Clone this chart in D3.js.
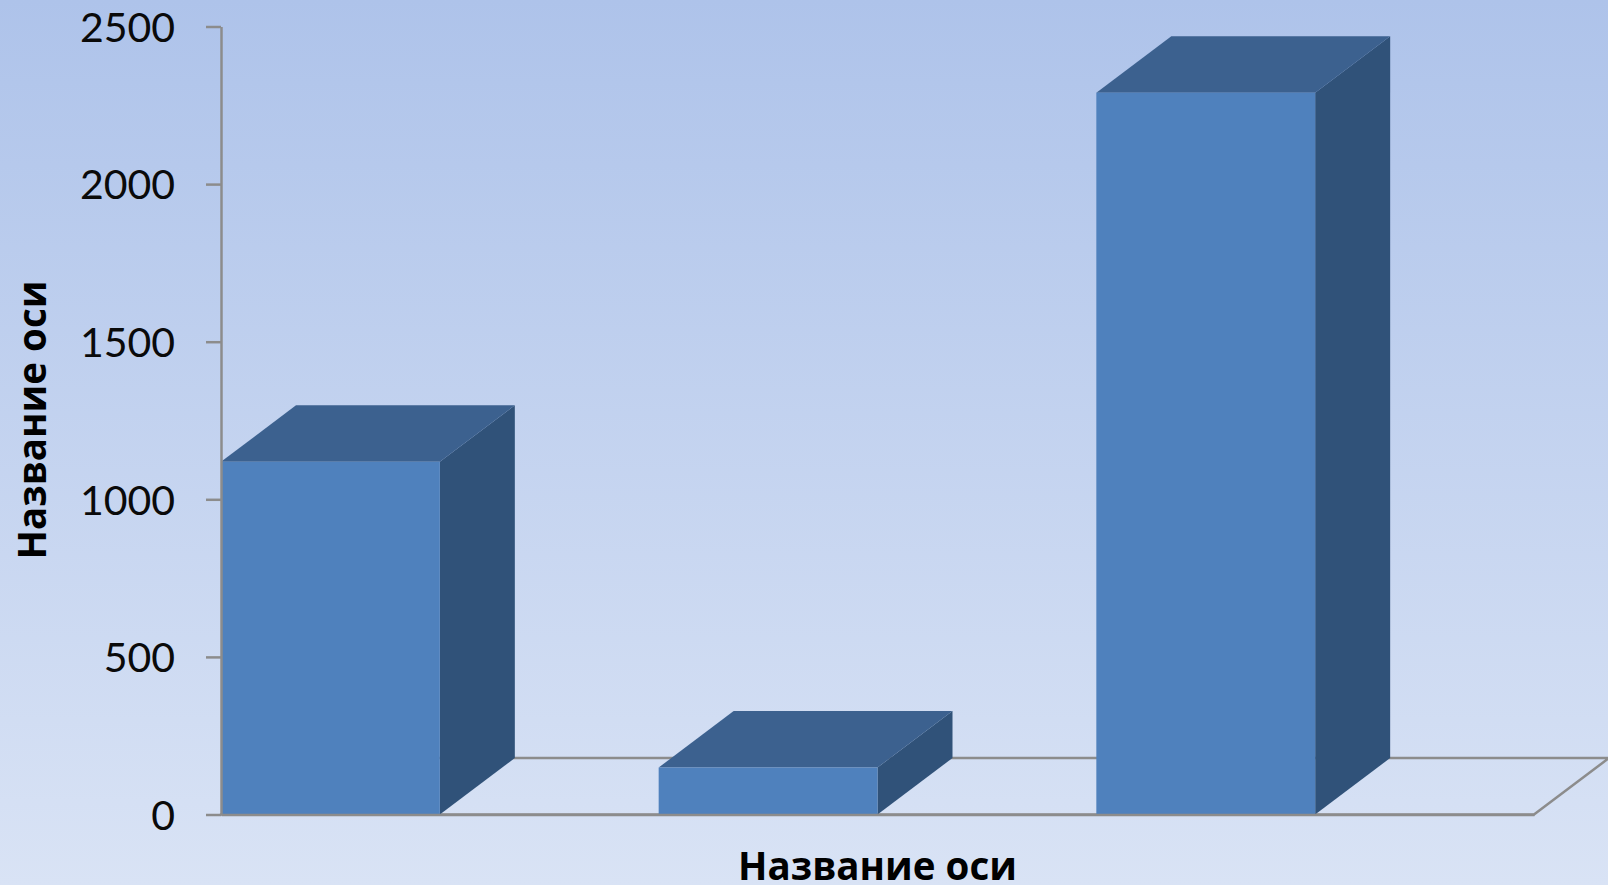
<!DOCTYPE html>
<html>
<head>
<meta charset="utf-8">
<script src="https://cdn.jsdelivr.net/npm/d3@7"></script>
<style>
    html, body { margin: 0; padding: 0; overflow: hidden; }
    svg { display: block; }
    .tick text { font-family: Lato, "Open Sans", sans-serif; font-size: 41px; fill: #0a0a0a; }
    .axis-title { font-family: "Open Sans", sans-serif; font-size: 38.5px; font-weight: 700; fill: #000; }
</style>
</head>
<body>
<div id="chart"></div>
<script>
const categories = ["1", "2", "3"];
const values = [1119, 149, 2290];
const yTicks = [0, 500, 1000, 1500, 2000, 2500];
const yTitle = "Название оси";
const xTitle = "Название оси";

const width = 1608, height = 885;
const margin = { top: 26.5, right: 74, bottom: 70.5, left: 221 };
const depth = { x: 75, y: 56.5 };

const svg = d3.select("#chart")
    .append("svg")
    .attr("width", width)
    .attr("height", height);

const grad = svg.append("defs").append("linearGradient")
    .attr("id", "bg")
    .attr("x1", 0).attr("y1", 0)
    .attr("x2", 0).attr("y2", 1);
grad.append("stop").attr("offset", "0%").attr("stop-color", "#aec3ea");
grad.append("stop").attr("offset", "100%").attr("stop-color", "#d9e3f5");

svg.append("rect")
    .attr("width", width)
    .attr("height", height)
    .attr("fill", "url(#bg)");

const x = d3.scaleBand()
    .domain(categories)
    .range([margin.left, width - margin.right]);

const y = d3.scaleLinear()
    .domain([0, 2500])
    .range([height - margin.bottom, margin.top]);

const barWidth = x.bandwidth() / 2;
const floorY = y(0);
const line = d3.line();

// floor of the 3d box
svg.append("path")
    .attr("d", line([
        [x.range()[0], floorY],
        [x.range()[1], floorY],
        [x.range()[1] + depth.x, floorY - depth.y],
        [x.range()[0] + depth.x, floorY - depth.y]
    ]) + "Z")
    .attr("fill", "none")
    .attr("stroke", "#8c8c8c")
    .attr("stroke-width", 2.5);

const bars = svg.selectAll(".bar")
    .data(values)
    .enter()
    .append("g")
    .attr("class", "bar");

// side
bars.append("path")
    .attr("fill", "#305279")
    .attr("d", (d, i) => {
        const x1 = x(categories[i]) + barWidth;
        return line([
            [x1, floorY],
            [x1, y(d)],
            [x1 + depth.x, y(d) - depth.y],
            [x1 + depth.x, floorY - depth.y]
        ]) + "Z";
    });

// top
bars.append("path")
    .attr("fill", "#3c618f")
    .attr("d", (d, i) => {
        const x0 = x(categories[i]);
        return line([
            [x0, y(d)],
            [x0 + barWidth, y(d)],
            [x0 + barWidth + depth.x, y(d) - depth.y],
            [x0 + depth.x, y(d) - depth.y]
        ]) + "Z";
    });

// front
bars.append("rect")
    .attr("fill", "#4f81bd")
    .attr("x", (d, i) => x(categories[i]))
    .attr("y", d => y(d))
    .attr("width", barWidth)
    .attr("height", d => floorY - y(d));

const yAxis = svg.append("g")
    .attr("transform", "translate(" + margin.left + ",0)")
    .call(d3.axisLeft(y).tickValues(yTicks).tickSize(15).tickPadding(31).tickSizeOuter(0).tickFormat(d3.format("d")));
yAxis.selectAll("path, line")
    .attr("stroke", "#8c8c8c")
    .attr("stroke-width", 2.5);
yAxis.selectAll("text")
    .attr("dy", "0.36em");

svg.append("g")
    .attr("transform", "translate(0," + floorY + ")")
    .call(d3.axisBottom(x).tickSize(0).tickFormat(""))
    .select("path")
    .attr("stroke", "#8c8c8c")
    .attr("stroke-width", 2.5);

svg.append("text")
    .attr("class", "axis-title")
    .attr("x", (x.range()[0] + x.range()[1]) / 2)
    .attr("y", 880)
    .attr("text-anchor", "middle")
    .text(xTitle);

svg.append("text")
    .attr("class", "axis-title")
    .attr("transform", "translate(46,420) rotate(-90)")
    .attr("text-anchor", "middle")
    .text(yTitle);
</script>
</body>
</html>
